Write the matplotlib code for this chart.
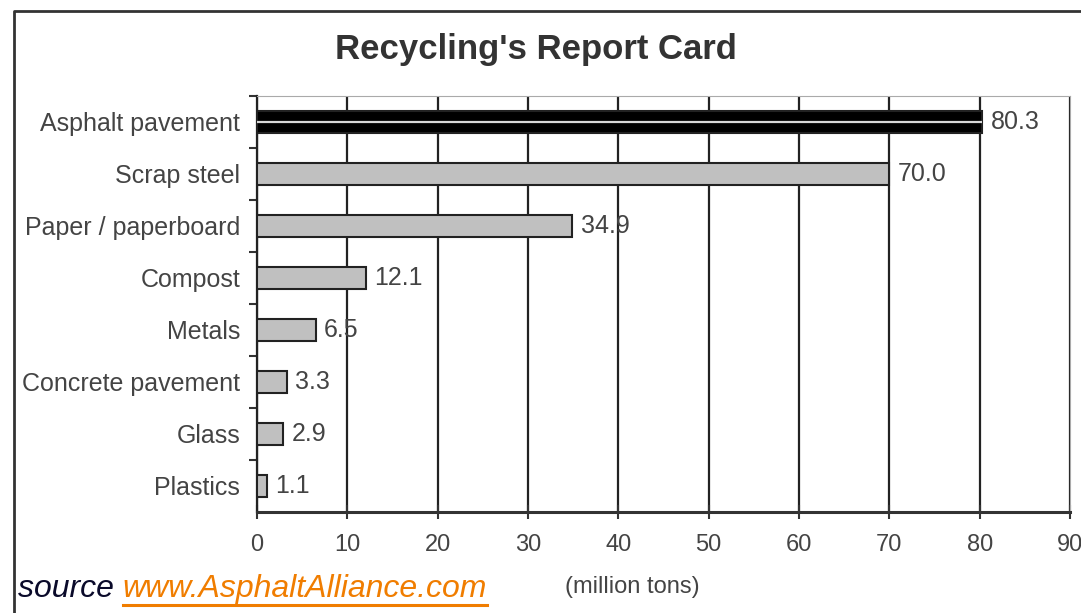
import matplotlib.pyplot as plt
from matplotlib.lines import Line2D

plt.rcParams['font.family'] = ['Liberation Sans', 'DejaVu Sans']

# recycled tonnage by material, top to bottom
materials = ["Asphalt pavement", "Scrap steel", "Paper / paperboard", "Compost",
             "Metals", "Concrete pavement", "Glass", "Plastics"]
tons = [80.3, 70.0, 34.9, 12.1, 6.5, 3.3, 2.9, 1.1]
x_ticks = [0, 10, 20, 30, 40, 50, 60, 70, 80, 90]

fig = plt.figure(figsize=(10.81, 6.13), dpi=100)
ax = fig.add_axes([0.2377, 0.1648, 0.7521, 0.6786])

ypos = list(range(len(materials)))[::-1]
colors = ["black"] + ["#c0c0c0"] * (len(materials) - 1)
ax.barh(ypos, tons, height=0.44, color=colors, edgecolor="#222222",
        linewidth=1.5, zorder=3)

# asphalt bar is drawn as a split double band
ax.plot([0, tons[0]], [ypos[0], ypos[0]], color="#d8d8d8", lw=1.6, zorder=4,
        solid_capstyle="butt")

for y, v in zip(ypos, tons):
    ax.annotate(f"{v:.1f}", (v, y), xytext=(6, 0), textcoords="offset points",
                va="center", ha="left", fontsize=18, color="#444444", zorder=5)

ax.set_xlim(0, 90)
ax.set_ylim(-0.5, len(materials) - 0.5)
ax.set_xticks(x_ticks)
ax.set_yticks(ypos)
ax.set_yticklabels(materials)
ax.set_yticks([y + 0.5 for y in ypos[1:]] + [ypos[0] + 0.5], minor=True)

ax.grid(axis="x", color="#222222", lw=1.6, zorder=1)
ax.tick_params(axis="y", which="major", length=0, pad=12, labelsize=18,
               labelcolor="#444444")
ax.tick_params(axis="y", which="minor", length=6, width=1.5, color="#333333",
               direction="out")
ax.tick_params(axis="x", length=10, width=1.5, direction="inout", color="#333333",
               pad=11, labelsize=17, labelcolor="#444444")

ax.spines["left"].set_color("#222222")
ax.spines["left"].set_linewidth(1.6)
ax.spines["bottom"].set_color("#333333")
ax.spines["bottom"].set_linewidth(2.2)
ax.spines["top"].set_color("#aaaaaa")
ax.spines["right"].set_color("#aaaaaa")

fig.text(536 / 1081, 1 - 50 / 613, "Recycling's Report Card", ha="center",
         va="center", fontsize=25, fontweight="bold", color="#333333")
fig.text(632 / 1081, 1 - 587 / 613, "(million tons)", ha="center", va="center",
         fontsize=17, color="#444444")

src = fig.text(18 / 1081, 1 - 589 / 613, "source ", ha="left", va="center",
               fontsize=23, style="italic", color="#0a0a2a")
fig.canvas.draw()
r = fig.canvas.get_renderer()
bb = src.get_window_extent(r).transformed(fig.transFigure.inverted())
link = fig.text(bb.x1, 1 - 589 / 613, "www.AsphaltAlliance.com", ha="left",
                va="center", fontsize=23, style="italic", color="#f07d00")
lb = link.get_window_extent(r).transformed(fig.transFigure.inverted())
fig.add_artist(Line2D([lb.x0, lb.x1], [1 - 605 / 613] * 2, color="#f07d00",
                      lw=2.2, transform=fig.transFigure))

# outer frame around the chart
fig.add_artist(Line2D([14 / 1081, 14 / 1081, 1.0], [0.0, 1 - 11 / 613, 1 - 11 / 613],
                      color="#333333", lw=2, transform=fig.transFigure))

fig.savefig("out.png", dpi=100)
